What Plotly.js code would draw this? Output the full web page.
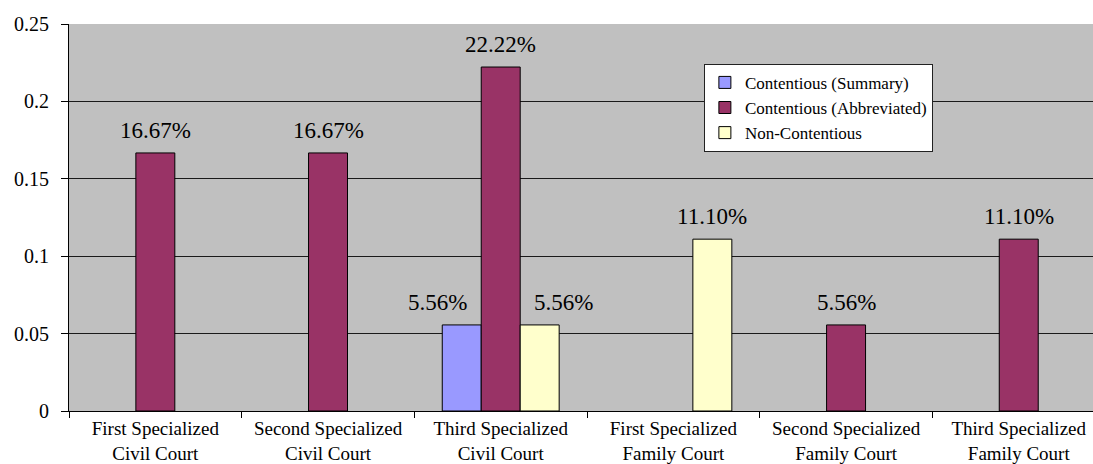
<!DOCTYPE html>
<html>
<head>
<meta charset="utf-8">
<script src="https://cdn.plot.ly/plotly-3.0.1.min.js"></script>
<style>html,body{margin:0;padding:0;overflow:hidden;background:#fff}</style>
</head>
<body>
<div id="chart" style="width:1093px;height:464px"></div>
<script>
var categories = [
  "First Specialized<br>Civil Court",
  "Second Specialized<br>Civil Court",
  "Third Specialized<br>Civil Court",
  "First Specialized<br>Family Court",
  "Second Specialized<br>Family Court",
  "Third Specialized<br>Family Court"
];
var seriesNames = ["Contentious (Summary)", "Contentious (Abbreviated)", "Non-Contentious"];
var summary = [0, 0, 0.0556, 0, 0, 0];
var abbreviated = [0.1667, 0.1667, 0.2222, 0, 0.0556, 0.111];
var nonContentious = [0, 0, 0.0556, 0.111, 0, 0];
var yTickVals = [0, 0.05, 0.1, 0.15, 0.2, 0.25];
var yTickText = ["0", "0.05", "0.1", "0.15", "0.2", "0.25"];

var colors = ["#9999FF", "#993366", "#FFFFCC"];
var allSeries = [summary, abbreviated, nonContentious];
var font = "Liberation Serif";
var bargap = 0.323;

var traces = allSeries.map(function (vals, i) {
  return {
    type: "bar",
    name: seriesNames[i],
    x: categories,
    y: vals.map(function (v) { return v === 0 ? null : v; }),
    marker: {color: colors[i], line: {color: "#000", width: 1}},
    hoverinfo: "none"
  };
});

var bw = (1 - bargap) / allSeries.length;
var mid = (allSeries.length - 1) / 2;
var annotations = [];
allSeries.forEach(function (vals, i) {
  vals.forEach(function (v, j) {
    if (v > 0) {
      // side labels next to a taller middle bar are nudged outward (as Excel does)
      var shift = 0;
      if (i !== mid && allSeries[mid][j] > v) shift = (i - mid) * 24;
      annotations.push({
        x: j + (i - mid) * bw,
        y: v,
        xref: "x", yref: "y",
        text: (v * 100).toFixed(2) + "%",
        showarrow: false,
        yanchor: "bottom",
        yshift: 8,
        xshift: shift,
        font: {family: font, size: 23, color: "#000"}
      });
    }
  });
});

var layout = {
  width: 1093, height: 464,
  margin: {l: 69, r: 0, t: 24, b: 53},
  paper_bgcolor: "#fff",
  plot_bgcolor: "#C0C0C0",
  barmode: "group",
  bargap: bargap,
  bargroupgap: 0,
  font: {family: font, color: "#000"},
  showlegend: true,
  legend: {
    x: 0.62, y: 0.897, xanchor: "left", yanchor: "top",
    bgcolor: "#fff", bordercolor: "#222", borderwidth: 1,
    font: {family: font, size: 17, color: "#000"},
    traceorder: "normal"
  },
  xaxis: {
    type: "category",
    range: [-0.5, 5.43],
    tickson: "boundaries",
    ticks: "outside", ticklen: 6, tickcolor: "#000", tickwidth: 1,
    showline: true, linecolor: "#000", linewidth: 1,
    showgrid: false,
    tickfont: {family: font, size: 19, color: "#000"},
    fixedrange: true
  },
  yaxis: {
    range: [0, 0.25],
    tickvals: yTickVals, ticktext: yTickText,
    ticks: "outside", ticklen: 7, tickcolor: "#000", tickwidth: 1,
    showline: true, linecolor: "#000", linewidth: 1,
    showgrid: true, gridcolor: "#1a1a1a", gridwidth: 1,
    zeroline: false,
    ticklabelstandoff: 8,
    tickfont: {family: font, size: 20, color: "#000"},
    fixedrange: true
  },
  annotations: annotations
};

Plotly.newPlot("chart", traces, layout, {displayModeBar: false, staticPlot: true});
</script>
</body>
</html>
